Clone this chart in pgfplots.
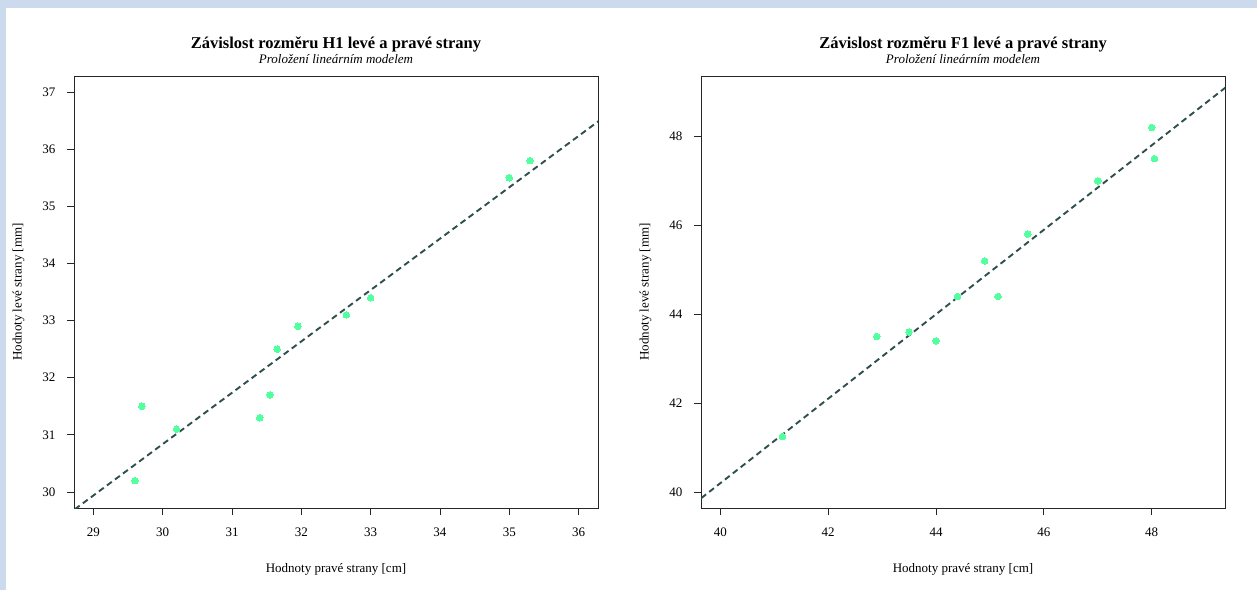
\documentclass[border=0pt]{standalone}
\usepackage{fontspec}
\setmainfont{Liberation Serif}
\usepackage{pgfplots}
\pgfplotsset{compat=1.18}
\definecolor{bgblue}{HTML}{CBDAEC}
\definecolor{ptgreen}{HTML}{54FF9F}
\definecolor{lngray}{HTML}{2F4F4F}
\newcommand{\lbl}{\fontsize{13}{15}\selectfont}
\pgfplotsset{
  rplot/.style={
    anchor=south west, width=524pt, height=432pt, scale only axis,
    axis line style={line width=1pt, black!85},
    tick align=outside, major tick length=7pt,
    tick style={line width=0.9pt, black!85},
    xtick pos=bottom, ytick pos=left,
    /pgf/number format/assume math mode=true,
    tick label style={font=\lbl},
    xticklabel style={yshift=-9pt},
    yticklabel style={xshift=-8pt},
    xlabel style={font=\lbl, at={(axis description cs:0.5,-0.150)}, anchor=base},
    ylabel style={font=\lbl, at={(axis description cs:-0.106,0.5)}, anchor=center, rotate=0},
    clip=true,
  },
  pts/.style={only marks, mark=*, mark size=3.3pt, color=ptgreen, mark options={draw=ptgreen, fill=ptgreen, line width=0pt}},
  fit/.style={no marks, color=lngray, line width=1.9pt, dash pattern=on 6pt off 4pt},
}
\begin{document}
\begin{tikzpicture}[x=1pt,y=1pt]
\fill[bgblue] (0,0) rectangle (1257,590);
\fill[white] (6,0) rectangle (1257,582);
\begin{axis}[rplot, at={(74pt,82pt)},
  xmin=28.72, xmax=36.28, ymin=29.72, ymax=37.28,
  xtick={29,30,...,36}, ytick={30,31,...,37},
  xlabel={Hodnoty pravé strany [cm]},
  ylabel={Hodnoty levé strany [mm]}]
\addplot[fit] coordinates {(28.5,29.49) (36.5,36.68)};
\addplot[pts] coordinates {
(29.6,30.2) (29.7,31.5) (30.2,31.1) (31.4,31.3) (31.55,31.7) (31.65,32.5)
(31.95,32.9) (32.65,33.1) (33.0,33.4) (35.0,35.5) (35.3,35.8)};
\end{axis}
\begin{axis}[rplot, at={(701pt,82pt)},
  xmin=39.64, xmax=49.36, ymin=39.64, ymax=49.36,
  xtick={40,42,...,48}, ytick={40,42,...,48},
  xlabel={Hodnoty pravé strany [cm]},
  ylabel={Hodnoty levé strany [mm]}]
\addplot[fit] coordinates {(39.5,39.725) (49.5,49.225)};
\addplot[pts] coordinates {
(41.15,41.25) (42.9,43.5) (43.5,43.6) (44.0,43.4) (44.4,44.4) (44.9,45.2)
(45.15,44.4) (45.7,45.8) (47.0,47.0) (48.0,48.2) (48.05,47.5)};
\end{axis}
\node[font=\fontsize{16.5}{19}\selectfont\bfseries, anchor=base, inner sep=0pt] at (336,541.5) {Závislost rozměru H1 levé a pravé strany};
\node[font=\lbl\itshape, anchor=base, inner sep=0pt] at (336,526.5) {Proložení lineárním modelem};
\node[font=\fontsize{16.5}{19}\selectfont\bfseries, anchor=base, inner sep=0pt] at (963,541.5) {Závislost rozměru F1 levé a pravé strany};
\node[font=\lbl\itshape, anchor=base, inner sep=0pt] at (963,526.5) {Proložení lineárním modelem};
\end{tikzpicture}
\end{document}
